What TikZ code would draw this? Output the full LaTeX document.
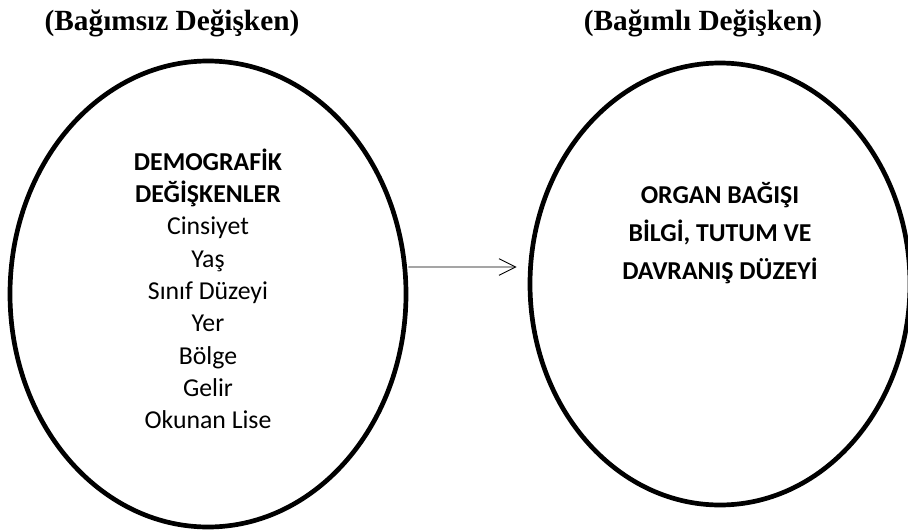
\documentclass[tikz,border=0pt]{standalone}
\usepackage{fontspec}
\setmainfont{Liberation Serif}
\newfontfamily\carlito{Carlito}
\usetikzlibrary{shapes.geometric,arrows.meta}

\begin{document}
\begin{tikzpicture}[
  oval/.style={draw, ellipse, line width=4pt, inner sep=0pt},
  hdr/.style={font=\fontsize{25}{30}\selectfont\bfseries},
  inner/.style={align=center, font=\carlito\fontsize{22}{#1}\selectfont},
  innerbold/.style={align=center, font=\carlito\bfseries\fontsize{22}{#1}\selectfont},
  arr/.style={-{Straight Barb[length=0.5cm,width=0.5cm]}, line width=0.8pt}
]
\useasboundingbox (0,0) rectangle (27.24,-15.93);

% headings
\node[hdr] (hleft) at (5.16,-0.70) {(Bağımsız Değişken)};
\node[hdr] (hright) at (21.09,-0.70) {(Bağımlı Değişken)};

% the two ovals
\node[oval, minimum width=11.88cm, minimum height=13.98cm] (indep) at (6.24,-8.82) {};
\node[oval, minimum width=11.4cm, minimum height=13.26cm] (dep) at (21.6,-8.52) {};

\node[inner=27.6] (demo) at (6.24,-8.66) {\textbf{DEMOGRAFİK}\\\textbf{DEĞİŞKENLER}\\Cinsiyet\\Yaş\\Sınıf Düzeyi\\Yer\\Bölge\\Gelir\\Okunan Lise};
\node[innerbold=32.4] (organ) at (21.6,-6.98) {ORGAN BAĞIŞI\\BİLGİ, TUTUM VE\\DAVRANIŞ DÜZEYİ};

\draw[arr] ([yshift=0.81cm]indep.east) -- ([xshift=-0.33cm,yshift=0.51cm]dep.west);
\end{tikzpicture}
\end{document}
